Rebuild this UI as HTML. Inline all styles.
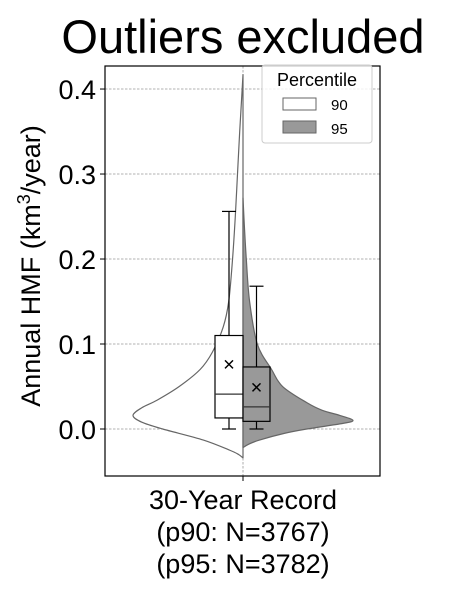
<!DOCTYPE html>
<html><head><meta charset="utf-8"><style>
body{margin:0;background:#fff;}
svg{display:block;font-family:"Liberation Sans","DejaVu Sans",sans-serif;}
</style></head><body>
<svg id="chart" width="459" height="589" viewBox="0 0 459 589">
<text x="243" y="53" font-size="47" text-anchor="middle" fill="#000">Outliers excluded</text>
<g id="grid"></g>
<g id="violins"></g>
<g id="boxes"></g>
<rect x="105" y="66" width="275" height="410" fill="none" stroke="#000" stroke-width="1.2"/>
<g id="yaxis"></g>
<text transform="translate(40,266) rotate(-90)" font-size="27" text-anchor="middle">Annual HMF (km<tspan dy="-10" font-size="18">3</tspan><tspan dy="10">/year)</tspan></text>
<g font-size="27" text-anchor="middle">
<text x="243" y="509">30-Year Record</text>
<text x="243" y="541">(p90: N=3767)</text>
<text x="243" y="573">(p95: N=3782)</text>
</g>
<line x1="243" y1="476" x2="243" y2="481" stroke="#000"/>
<g>
<rect x="262" y="65" width="110" height="78" rx="3" fill="#fff" fill-opacity="0.8" stroke="#ccc"/>
<text x="317" y="86" font-size="18" text-anchor="middle">Percentile</text>
<rect x="283" y="98" width="33" height="12" fill="#fff" stroke="#666"/>
<text x="331" y="110" font-size="15">90</text>
<rect x="283" y="121" width="33" height="12" fill="#999" stroke="#666"/>
<text x="331" y="134" font-size="15">95</text>
</g>
</svg>
<script>
const yTicks=[0.0,0.1,0.2,0.3,0.4];
const yTickLabels=["0.0","0.1","0.2","0.3","0.4"];
const v90Values=[-0.034,-0.03,-0.025,-0.013,0.0,0.008,0.016,0.025,0.034,0.05,0.07,0.09,0.12,0.15,0.2,0.25,0.3,0.35,0.39,0.417];
const v90Density=[0,0.04,0.12,0.36,0.73,0.92,1.0,0.92,0.78,0.58,0.39,0.28,0.18,0.13,0.095,0.07,0.05,0.03,0.012,0];
const v95Values=[-0.022,-0.018,-0.013,-0.005,0.0,0.006,0.01,0.016,0.022,0.031,0.05,0.07,0.1,0.15,0.2,0.24,0.272];
const v95Density=[0,0.05,0.15,0.38,0.58,0.88,1.0,0.88,0.72,0.58,0.36,0.26,0.13,0.06,0.03,0.012,0];
const box90=[0.0,0.013,0.041,0.11,0.256];
const box95=[0.0,0.009,0.026,0.073,0.168];
const mean90=0.076, mean95=0.049;
const NS='http://www.w3.org/2000/svg';
const yMin=-0.0553,yMax=0.4271,yTop=66,yBot=476,cx=243,halfW=110;
function y(v){return yBot-(v-yMin)/(yMax-yMin)*(yBot-yTop);}
function mk(t,a,p){const e=document.createElementNS(NS,t);for(const k in a)e.setAttribute(k,a[k]);p.appendChild(e);return e;}
const grid=document.getElementById('grid'),ya=document.getElementById('yaxis');
yTicks.forEach((t,i)=>{
 const g=mk('line',{x1:105,x2:380,y1:y(t),y2:y(t),stroke:'#999','stroke-width':0.8,'stroke-dasharray':'2.5,1.5'},grid);
 
 
 const tk=mk('line',{x1:100,x2:105,y1:y(t),y2:y(t),stroke:'#000'},ya);
 
 
 const tx=mk('text',{x:96,y:y(t)+10,'font-size':27,'text-anchor':'end'},ya);
 tx.textContent=yTickLabels[i];
 
 
});
const vg=mk('line',{x1:cx,x2:cx,y1:yTop,y2:yBot,stroke:'#999','stroke-width':0.8,'stroke-dasharray':'2.5,1.5'},grid);


const vio=document.getElementById('violins');
function smoothPath(P){
 let d=`M${P[0][0]},${P[0][1]}`;
 for(let i=0;i<P.length-1;i++){
  const p0=P[Math.max(0,i-1)],p1=P[i],p2=P[i+1],p3=P[Math.min(P.length-1,i+2)];
  const c1=[p1[0]+(p2[0]-p0[0])/6,p1[1]+(p2[1]-p0[1])/6];
  const c2=[p2[0]-(p3[0]-p1[0])/6,p2[1]-(p3[1]-p1[1])/6];
  d+=`C${c1[0]},${c1[1]} ${c2[0]},${c2[1]} ${p2[0]},${p2[1]}`;
 }
 return d;
}
function violin(vals,dens,side,fill,name){
 const P=vals.map((v,i)=>[cx+side*dens[i]*halfW,y(v)]);
 const d=smoothPath(P)+`L${cx},${y(vals[vals.length-1])}L${cx},${y(vals[0])}Z`;
 const p=mk('path',{d:d,fill:fill,stroke:'#666','stroke-width':1.2,'stroke-linejoin':'round'},vio);
 
 
}
violin(v90Values,v90Density,-1,'#fff','violin-p90');
violin(v95Values,v95Density,1,'#999','violin-p95');
const bg=document.getElementById('boxes');
function box(b,mean,x0,x1,fill,name){
 const g=mk('g',{},bg);
 
 
 const m=(x0+x1)/2;
 mk('line',{x1:m,x2:m,y1:y(b[0]),y2:y(b[1]),stroke:'#000','stroke-width':1.2},g);
 mk('line',{x1:m,x2:m,y1:y(b[3]),y2:y(b[4]),stroke:'#000','stroke-width':1.2},g);
 mk('line',{x1:m-7,x2:m+7,y1:y(b[0]),y2:y(b[0]),stroke:'#000','stroke-width':1.2},g);
 mk('line',{x1:m-7,x2:m+7,y1:y(b[4]),y2:y(b[4]),stroke:'#000','stroke-width':1.2},g);
 mk('rect',{x:x0,y:y(b[3]),width:x1-x0,height:y(b[1])-y(b[3]),fill:fill,stroke:'#000','stroke-width':1.2},g);
 mk('line',{x1:x0,x2:x1,y1:y(b[2]),y2:y(b[2]),stroke:'#333','stroke-width':1.2},g);
 const my=y(mean);
 mk('path',{d:`M${m-4},${my-4}L${m+4},${my+4}M${m-4},${my+4}L${m+4},${my-4}`,stroke:'#000','stroke-width':1.5},g);
}
box(box90,mean90,215,243,'#fff','box-p90');
box(box95,mean95,243,270,'#999','box-p95');
</script>
</body></html>
